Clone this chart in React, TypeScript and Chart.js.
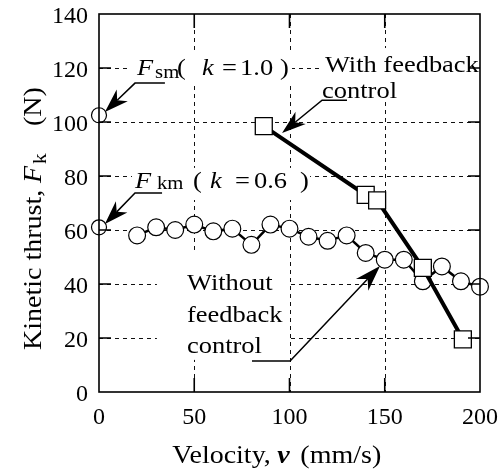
import React, { useEffect, useRef } from "react";
import { Chart, registerables } from "chart.js";

Chart.register(...registerables);

const FONT = '"Liberation Serif", "Times New Roman", Times, serif';

// ---- data ----
const withoutX = [20, 30, 40, 50, 60, 70, 80, 90, 100, 110, 120, 130, 140, 150, 160, 170, 180, 190, 200];
const withoutY = [58, 61, 60, 62, 59.5, 60.5, 54.5, 62, 60.5, 57.5, 56, 58, 51.5, 49, 49, 41, 46.5, 41, 39];
const withX = [86.5, 140, 146, 170, 191];
const withY = [98.5, 73, 71, 46, 19.5];
const refX = [0, 0];
const refY = [102.5, 61];
const xTicks = [0, 50, 100, 150, 200];
const yTicks = [0, 20, 40, 60, 80, 100, 120, 140];

const pairs = (xs: number[], ys: number[]) => xs.map((x, i) => ({ x, y: ys[i] }));

type Piece = [string, number, number, string, number]; // text, offset(px), size, style, dy

function drawPieces(ctx: CanvasRenderingContext2D, pieces: Piece[], x0: number, y0: number, sx: number) {
  pieces.forEach(([t, off, size, style, dy]) => {
    ctx.save();
    ctx.font = `${style} ${size}px ${FONT}`;
    ctx.translate(x0 + off, y0 + dy);
    ctx.scale(sx, 1);
    ctx.fillText(t, 0, 0);
    ctx.restore();
  });
}

function arrow(ctx: CanvasRenderingContext2D, pts: [number, number][], L: number, W: number, notch: number) {
  const [tx, ty] = pts[pts.length - 1];
  const [px, py] = pts[pts.length - 2];
  const len = Math.hypot(tx - px, ty - py);
  const dx = (tx - px) / len, dy = (ty - py) / len;
  const nx = -dy, ny = dx;
  const bx = tx - dx * (L - notch), by = ty - dy * (L - notch);
  ctx.beginPath();
  ctx.moveTo(pts[0][0], pts[0][1]);
  for (let i = 1; i < pts.length - 1; i++) ctx.lineTo(pts[i][0], pts[i][1]);
  ctx.lineTo(bx, by);
  ctx.stroke();
  ctx.beginPath();
  ctx.moveTo(tx, ty);
  ctx.lineTo(tx - dx * L + nx * W, ty - dy * L + ny * W);
  ctx.lineTo(bx, by);
  ctx.lineTo(tx - dx * L - nx * W, ty - dy * L - ny * W);
  ctx.closePath();
  ctx.fill();
}

const annot = {
  id: "annot",
  beforeDatasetsDraw(chart: any) {
    const { ctx, chartArea: a, scales } = chart;
    const xs = scales.x, ys = scales.y;
    ctx.save();
    ctx.strokeStyle = "#111";
    ctx.lineWidth = 1;
    ctx.setLineDash([4, 4]);
    xTicks.forEach((v) => {
      if (v <= xs.min || v >= xs.max) return;
      const p = Math.round(xs.getPixelForValue(v)) + 0.5;
      ctx.beginPath(); ctx.moveTo(p, a.top); ctx.lineTo(p, a.bottom); ctx.stroke();
    });
    yTicks.forEach((v) => {
      if (v <= ys.min || v >= ys.max) return;
      const p = Math.round(ys.getPixelForValue(v)) + 0.5;
      ctx.beginPath(); ctx.moveTo(a.left, p); ctx.lineTo(a.right, p); ctx.stroke();
    });
    ctx.setLineDash([]);
    const boxes = [
      [16.3, 125.9, 101.3, 114.8],
      [17.3, 83, 110.8, 71.1],
      [117.1, 127.4, 200, 107.4],
      [30.4, 52.6, 99.2, 11.9],
    ];
    ctx.fillStyle = "#fff";
    boxes.forEach(([x1, y1, x2, y2]) => {
      const X1 = xs.getPixelForValue(x1), X2 = xs.getPixelForValue(x2);
      const Y1 = ys.getPixelForValue(y1), Y2 = ys.getPixelForValue(y2);
      ctx.fillRect(X1, Y1, X2 - X1, Y2 - Y1);
    });
    ctx.restore();
  },
  afterDatasetsDraw(chart: any) {
    const { ctx, chartArea: a, scales } = chart;
    const xs = scales.x, ys = scales.y;
    const P = (x: number, y: number): [number, number] => [xs.getPixelForValue(x), ys.getPixelForValue(y)];
    ctx.save();
    ctx.fillStyle = "#000";
    ctx.strokeStyle = "#000";
    ctx.textBaseline = "alphabetic";
    ctx.textAlign = "left";
    const S = 23, s = 18, sx = 1.15;

    let [x0, y0] = P(20, 117.4);
    drawPieces(ctx, [
      ["F", 0, S, "italic", 0],
      ["sm", 18, s, "normal", 3],
      ["(", 40, S, "normal", 0],
      ["k", 65, S, "italic", 0],
      ["=", 85, S, "normal", 0],
      ["1.0", 103, S, "normal", 0],
      [")", 143, S, "normal", 0],
    ], x0, y0, sx);
    [x0, y0] = P(18.9, 75.6);
    drawPieces(ctx, [
      ["F", 0, S, "italic", 0],
      ["km", 22, s, "normal", 1],
      ["(", 58, S, "normal", 0],
      ["k", 75, S, "italic", 0],
      ["=", 100, S, "normal", 0],
      ["0.6", 119, S, "normal", 0],
      [")", 165, S, "normal", 0],
    ], x0, y0, sx);
    [x0, y0] = P(118.6, 118.5);
    drawPieces(ctx, [["With feedback", 0, S, "normal", 0]], x0, y0, sx);
    [x0, y0] = P(117.1, 108.9);
    drawPieces(ctx, [["control", 0, S, "normal", 0]], x0, y0, sx);
    [x0, y0] = P(46.2, 37.8);
    drawPieces(ctx, [["Without", 0, S, "normal", 0]], x0, y0, sx);
    [x0, y0] = P(46.2, 25.9);
    drawPieces(ctx, [["feedback", 0, S, "normal", 0]], x0, y0, sx);
    [x0, y0] = P(46.2, 14.4);
    drawPieces(ctx, [["control", 0, S, "normal", 0]], x0, y0, sx);

    ctx.lineWidth = 1.5;
    arrow(ctx, [P(34.6, 114.4), P(18.9, 114.4), P(3.1, 103.7)], 24, 8, 7);
    arrow(ctx, [P(33.1, 73.7), P(18.9, 73.7), P(3.1, 62.2)], 24, 8, 7);
    arrow(ctx, [P(130.2, 108.1), P(117.1, 108.1), P(96.1, 95.9)], 24, 8, 7);
    arrow(ctx, [P(80.3, 11.5), P(100.3, 11.5), P(147.5, 46.7)], 26, 8.5, 8);

    ctx.lineWidth = 1.6;
    ctx.strokeRect(a.left, a.top, a.right - a.left, a.bottom - a.top);
    xTicks.forEach((v) => {
      if (v <= xs.min || v >= xs.max) return;
      const p = xs.getPixelForValue(v);
      ctx.beginPath();
      ctx.moveTo(p, a.bottom); ctx.lineTo(p, a.bottom - 14);
      ctx.moveTo(p, a.top); ctx.lineTo(p, a.top + 14);
      ctx.stroke();
    });
    yTicks.forEach((v) => {
      if (v <= ys.min || v >= ys.max) return;
      const p = ys.getPixelForValue(v);
      ctx.beginPath();
      ctx.moveTo(a.left, p); ctx.lineTo(a.left + 12, p);
      ctx.moveTo(a.right, p); ctx.lineTo(a.right - 12, p);
      ctx.stroke();
    });

    const T = 25, tsx = 1.12;
    const cx = xs.getPixelForValue(38.5);
    drawPieces(ctx, [
      ["Velocity,", 0, T, "normal", 0],
      ["v", 105, T, "italic bold", 0],
      ["(mm/s)", 128, T, "normal", 0],
    ], cx, 463, tsx);

    ctx.save();
    ctx.translate(41, 350);
    ctx.rotate(-Math.PI / 2);
    drawPieces(ctx, [
      ["Kinetic thrust,", 0, T, "normal", 0],
      ["F", 167, T, "italic", 0],
      ["k", 186, 19, "normal", 5],
      ["(N)", 224, T, "normal", 0],
    ], 0, 0, tsx);
    ctx.restore();

    ctx.restore();
  },
};

export default function App() {
  const ref = useRef<HTMLCanvasElement | null>(null);
  useEffect(() => {
    document.body.style.margin = "0";
    document.body.style.overflow = "hidden";
    const tickFont = { family: FONT, size: 24 };
    const chart = new Chart(ref.current as HTMLCanvasElement, {
      type: "scatter",
      data: {
        datasets: [
          {
            label: "With feedback control",
            data: pairs(withX, withY),
            showLine: true,
            borderColor: "#000",
            borderWidth: 4,
            pointStyle: "rect",
            pointRadius: 12,
            pointBorderWidth: 1.3,
            pointBackgroundColor: "#fff",
            pointBorderColor: "#000",
            clip: false,
          } as any,
          {
            label: "Without feedback control",
            data: pairs(withoutX, withoutY),
            showLine: true,
            borderColor: "#000",
            borderWidth: 2.5,
            pointStyle: "circle",
            pointRadius: 8.4,
            pointBorderWidth: 1.2,
            pointBackgroundColor: "#fff",
            pointBorderColor: "#000",
            clip: false,
          } as any,
          {
            label: "Reference",
            data: pairs(refX, refY),
            showLine: false,
            pointStyle: "circle",
            pointRadius: 7.5,
            pointBorderWidth: 1.2,
            pointBackgroundColor: "#fff",
            pointBorderColor: "#000",
            clip: false,
          } as any,
        ],
      },
      options: {
        animation: false,
        responsive: false,
        events: [],
        layout: { padding: { left: 0, right: 24, top: 14, bottom: 0 } },
        plugins: { legend: { display: false }, tooltip: { enabled: false } },
        scales: {
          x: {
            type: "linear",
            min: 0,
            max: 200,
            afterBuildTicks: (s: any) => { s.ticks = xTicks.map((v) => ({ value: v })); },
            afterFit: (s: any) => { s.height = 81; s.paddingLeft = 0; s.paddingRight = 0; },
            ticks: { font: tickFont, color: "#000", padding: 11, autoSkip: false, maxRotation: 0 },
            grid: { display: false, drawTicks: false },
            border: { display: false },
          },
          y: {
            type: "linear",
            min: 0,
            max: 140,
            afterBuildTicks: (s: any) => { s.ticks = yTicks.map((v) => ({ value: v })); },
            afterFit: (s: any) => { s.width = 99; s.paddingTop = 0; s.paddingBottom = 0; },
            ticks: { font: tickFont, color: "#000", padding: 11, autoSkip: false, labelOffset: 3 },
            grid: { display: false, drawTicks: false },
            border: { display: false },
          },
        },
      },
      plugins: [annot],
    });
    let alive = true;
    const fonts = (document as any).fonts;
    if (fonts && fonts.load) {
      Promise.all([
        fonts.load(`24px "Liberation Serif"`),
        fonts.load(`italic 23px "Liberation Serif"`),
        fonts.load(`italic bold 25px "Liberation Serif"`),
      ]).then(() => { if (alive) chart.update(); }).catch(() => {});
    }
    return () => { alive = false; chart.destroy(); };
  }, []);
  return <canvas ref={ref} width={504} height={473} style={{ display: "block" }} />;
}
